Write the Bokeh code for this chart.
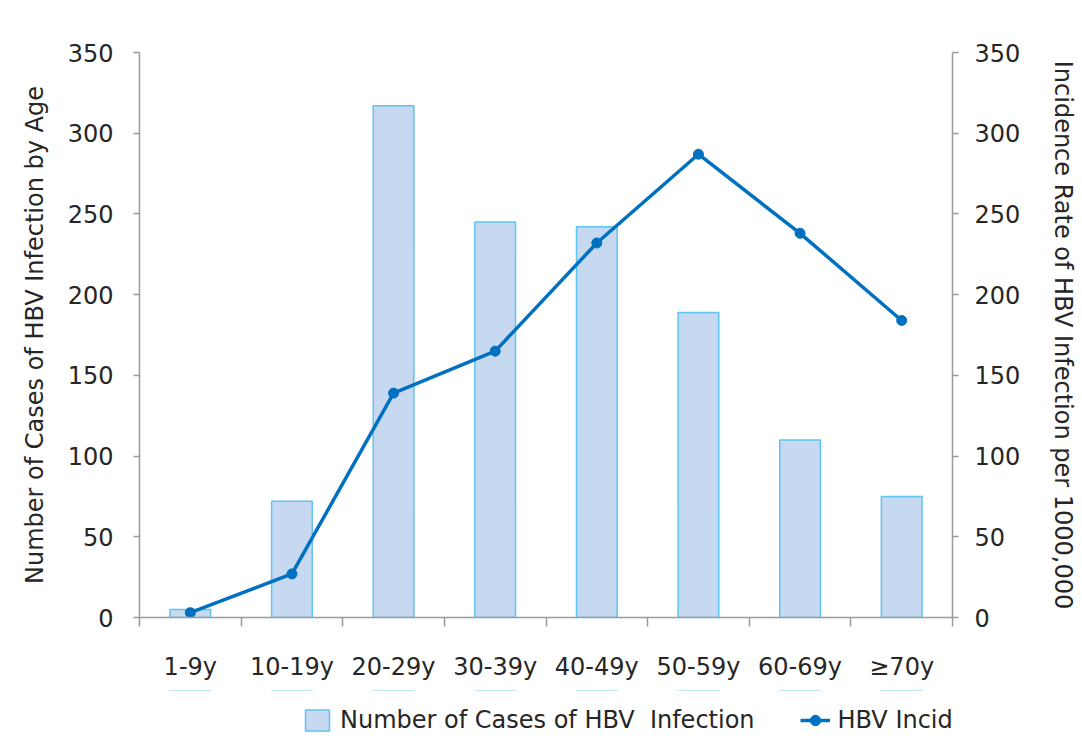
from bokeh.plotting import figure
from bokeh.layouts import column
from bokeh.models import (Range1d, LinearAxis, FixedTicker, Legend, LegendItem, ColumnDataSource,
                          BoxAnnotation)
from bokeh.embed import file_html
from bokeh.resources import INLINE

categories = ["1-9y", "10-19y", "20-29y", "30-39y", "40-49y", "50-59y", "60-69y", "\u226570y"]
cases = [5, 72, 317, 245, 242, 189, 110, 75]
incidence_rate = [3, 27, 139, 165, 232, 287, 238, 184]
y_ticks = [0, 50, 100, 150, 200, 250, 300, 350]
bar_label = "Number of Cases of HBV  Infection"
line_label = "HBV Incidence Rate"

FONT = "DejaVu Sans"
FS = "24px"
TXT = "#262626"
AXC = "#9a9a9a"
BAR_FILL = "#c6d9f0"
BAR_LINE = "#5ec4f0"
LINE_C = "#0070c0"

xs = list(range(1, len(categories) + 1))
src = ColumnDataSource(dict(x=xs, cases=cases, rate=incidence_rate))

p = figure(width=1082, height=690, output_backend="svg", toolbar_location=None,
           x_range=Range1d(0.5, len(categories) + 0.5), y_range=Range1d(0, 350),
           min_border_left=139, min_border_right=130, min_border_top=52, min_border_bottom=73,
           background_fill_color="white", border_fill_color="white", outline_line_color=None)
p.extra_y_ranges = {"rate": Range1d(0, 350)}
p.xgrid.visible = False
p.ygrid.visible = False

p.vbar(x="x", top="cases", width=0.4, source=src, fill_color=BAR_FILL,
       line_color=BAR_LINE, line_width=1.5)
p.line(x="x", y="rate", source=src, y_range_name="rate", line_color=LINE_C, line_width=3.5)
p.scatter(x="x", y="rate", source=src, y_range_name="rate", size=10,
          fill_color=LINE_C, line_color=LINE_C)

# x axis: ticks at category boundaries (minor), labels at centres
xa = p.xaxis[0]
xa.ticker = FixedTicker(ticks=xs, minor_ticks=[i + 0.5 for i in range(0, len(categories) + 1)])
xa.major_label_overrides = {x: c for x, c in zip(xs, categories)}
xa.major_tick_line_color = None
xa.minor_tick_out = 9
xa.minor_tick_in = 0
xa.minor_tick_line_color = AXC
xa.minor_tick_line_width = 1.5
xa.axis_line_color = AXC
xa.axis_line_width = 1.5
xa.major_label_text_font = FONT
xa.major_label_text_font_size = FS
xa.major_label_text_color = TXT
xa.major_label_standoff = 26

ya = p.yaxis[0]
ya.ticker = FixedTicker(ticks=y_ticks, minor_ticks=[])
ya.axis_label = "Number of Cases of HBV Infection by Age"
ya.axis_label_text_font = FONT
ya.axis_label_text_font_size = FS
ya.axis_label_text_font_style = "normal"
ya.axis_label_text_color = TXT
ya.axis_label_standoff = 16
ya.major_label_text_font = FONT
ya.major_label_text_font_size = FS
ya.major_label_text_color = TXT
ya.major_label_standoff = 20
ya.major_tick_out = 6
ya.major_tick_in = 0
ya.major_tick_line_color = AXC
ya.major_tick_line_width = 1.5
ya.axis_line_color = AXC
ya.axis_line_width = 1.5

ra = LinearAxis(y_range_name="rate", ticker=FixedTicker(ticks=y_ticks, minor_ticks=[]),
                axis_label="Incidence Rate of HBV Infection per 1000,000")
ra.axis_label_text_font = FONT
ra.axis_label_text_font_size = FS
ra.axis_label_text_font_style = "normal"
ra.axis_label_text_color = TXT
ra.axis_label_standoff = 26
ra.major_label_text_font = FONT
ra.major_label_text_font_size = FS
ra.major_label_text_color = TXT
ra.major_label_standoff = 16
ra.major_tick_out = 6
ra.major_tick_in = 0
ra.major_tick_line_color = AXC
ra.major_tick_line_width = 1.5
ra.axis_line_color = AXC
ra.axis_line_width = 1.5
p.add_layout(ra, "right")

# legend strip below the chart: same-styled renderers on the same data, kept out of view
lg = figure(width=1082, height=52, output_backend="svg", toolbar_location=None,
            x_range=Range1d(0.5, len(categories) + 0.5), y_range=Range1d(-20, -10),
            x_axis_type=None, y_axis_type=None,
            min_border=0, outline_line_color=None, background_fill_color="white",
            border_fill_color="white")
lg.xgrid.visible = False
lg.ygrid.visible = False
rb = lg.vbar(x="x", top="cases", bottom=0, width=0.4, source=src, fill_color=BAR_FILL,
             line_color=BAR_LINE, line_width=1.5)
rl = lg.line(x="x", y="rate", source=src, line_color=LINE_C, line_width=3.5)
rs = lg.scatter(x="x", y="rate", source=src, size=9, fill_color=LINE_C, line_color=LINE_C)
cover = BoxAnnotation(fill_color="white", fill_alpha=1.0, line_color=None, line_alpha=0)
lg.add_layout(cover)
legend = Legend(items=[LegendItem(label=bar_label, renderers=[rb]),
                       LegendItem(label=line_label, renderers=[rl, rs])],
                orientation="horizontal", label_text_font=FONT, label_text_font_size=FS,
                label_text_color=TXT, border_line_color=None, background_fill_alpha=0,
                spacing=45, glyph_width=30, glyph_height=26, label_standoff=8,
                margin=0, padding=0, location=(163, 8))
lg.add_layout(legend, "center")

layout = column(p, lg, spacing=0)
open("out.html", "w").write(file_html(layout, INLINE))
